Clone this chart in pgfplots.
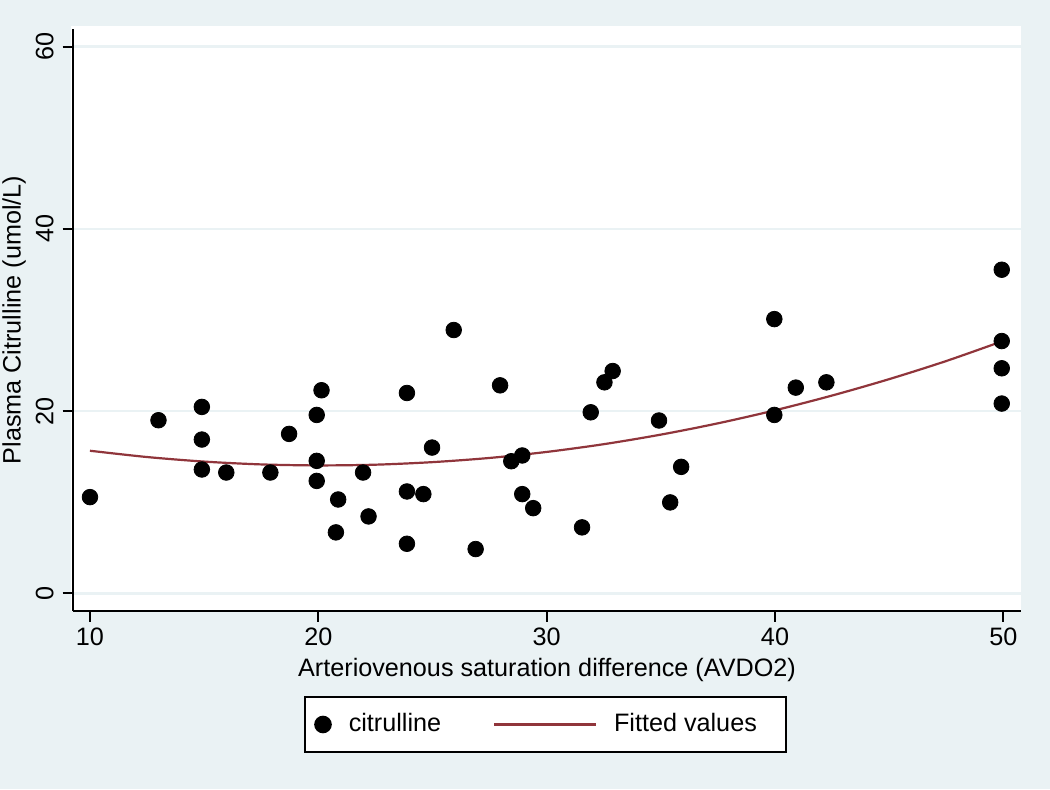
\documentclass[border=0pt]{standalone}
\usepackage{fontspec}
\setmainfont{Liberation Sans}
\usepackage{pgfplots}
\pgfplotsset{compat=1.18}

\definecolor{bgstata}{RGB}{234,242,244}
\definecolor{fitred}{RGB}{144,53,59}

\begin{document}
\fontsize{12.6}{15}\selectfont
\begin{tikzpicture}
% outer graph region and white plot region
\fill[bgstata] (0,0) rectangle (525pt,394.5pt);
\fill[white] (35.5pt,89pt) rectangle (510.5pt,381.5pt);
\begin{axis}[
    at={(36.65pt,89pt)}, anchor=south west,
    scale only axis, width=473.7pt, height=291pt,
    xmin=9.27, xmax=50.76,
    ymin=-1.94, ymax=61.94,
    axis x line*=bottom, axis y line*=left,
    axis line style={line width=1pt, -},
    xtick={10,20,30,40,50},
    ytick={0,20,40,60},
    tick align=outside,
    major tick length=5.35pt,
    every tick/.style={black, line width=1pt},
    ymajorgrids=true,
    grid style={bgstata, line width=1.3pt},
    /pgf/number format/assume math mode=true,
    xticklabel style={anchor=base, inner sep=0pt},
    xticklabel shift=11.65pt,
    yticklabel style={rotate=90, anchor=base, inner sep=0pt},
    yticklabel shift=4.65pt,
    xlabel={Arteriovenous saturation difference (AVDO2)},
    ylabel={Plasma Citrulline (umol/L)},
    xlabel style={at={([yshift=-32.85pt]axis description cs:0.5,0)}, anchor=base, inner sep=0pt},
    ylabel style={at={([xshift=-26.3pt]axis description cs:0,0.5)}, rotate=0, anchor=base, inner sep=0pt},
    legend columns=2,
    legend style={
        at={(0.4983,-0.195)}, anchor=center,
        draw=black, line width=1pt, fill=white,
        inner xsep=4.65pt, inner ysep=8.3pt,
        nodes={inner sep=0pt},
        /tikz/every odd column/.append style={column sep=8.5pt},
        /tikz/every even column/.append style={column sep=26pt},
    },
]

\addplot[
    only marks,
    mark=*,
    mark size=3.9pt,
    color=black,
    legend image code/.code={\fill[black] (0pt,0pt) circle[radius=3.9pt];},
    ]
    coordinates {
(10,10.56)(13,19.0)(14.9,20.46)(14.9,16.88)(14.9,13.59)(15.97,13.26)
(17.9,13.26)(18.72,17.5)(20.14,22.29)(19.93,19.58)(19.93,14.54)(19.93,12.34)
(20.87,10.3)(20.77,6.69)(21.96,13.26)(22.2,8.44)(23.88,21.99)(23.88,11.18)
(23.88,5.44)(24.6,10.89)(24.98,16.0)(25.93,28.9)(26.89,4.86)(27.96,22.83)
(28.45,14.5)(28.93,15.13)(28.93,10.89)(29.41,9.35)(31.55,7.24)(31.93,19.87)
(32.53,23.16)(32.89,24.4)(34.92,18.97)(35.41,9.98)(35.89,13.88)(39.97,30.1)
(39.97,19.58)(40.91,22.58)(42.25,23.16)(49.93,35.52)(49.93,27.69)(49.93,24.7)
(49.93,20.83)
    };
\addlegendentry{citrulline}

\addplot[
    color=fitred,
    line width=1.1pt,
    smooth,
    legend image code/.code={\draw[fitred, line width=1.1pt] (0pt,0pt) -- (50.8pt,0pt);},
    ]
    coordinates {
(10,15.65)(12.5,14.96)(15,14.46)(17.5,14.15)(20,14.04)(22.5,14.12)
(25,14.40)(27.5,14.86)(30,15.52)(32.5,16.37)(35,17.42)(37.5,18.66)
(40,20.09)(42.5,21.71)(45,23.51)(47.5,25.50)(50,27.71)
    };
\addlegendentry{Fitted values\hspace*{9.85pt}}

\end{axis}
\end{tikzpicture}
\end{document}
